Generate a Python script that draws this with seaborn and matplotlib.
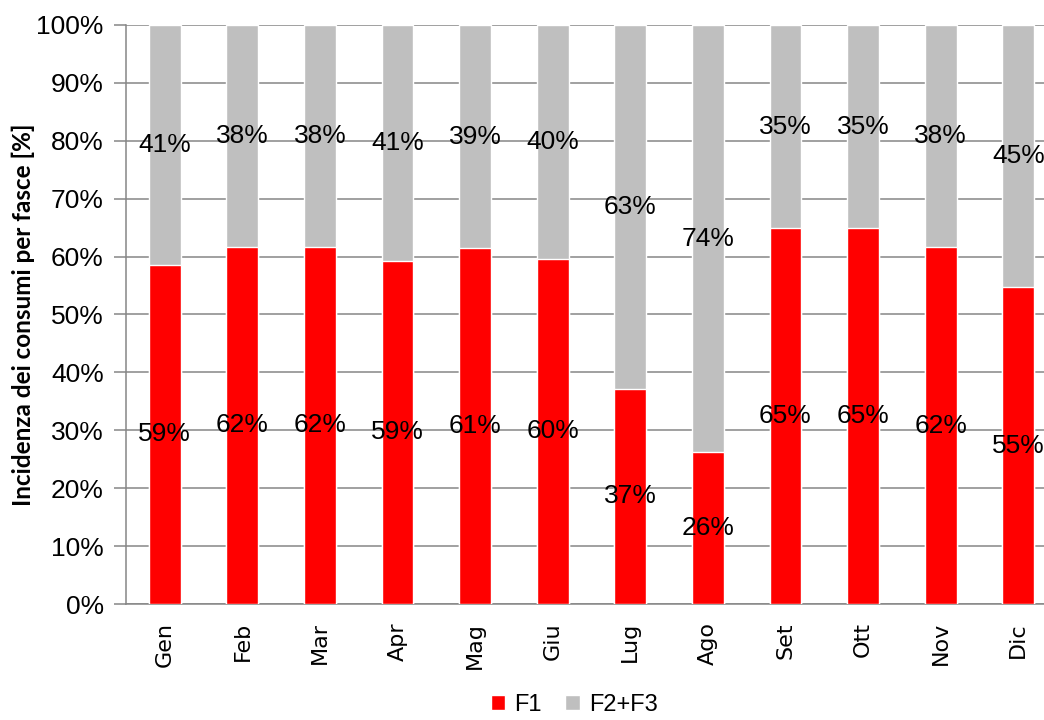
import numpy as np
import pandas as pd
import matplotlib
matplotlib.use("Agg")
import matplotlib.pyplot as plt
import seaborn as sns
from matplotlib.patches import Patch

# monthly split of consumption: F1 vs F2+F3 (percent)
months = ["Gen", "Feb", "Mar", "Apr", "Mag", "Giu", "Lug", "Ago", "Set", "Ott", "Nov", "Dic"]
f1 = [58.6, 61.7, 61.7, 59.3, 61.4, 59.6, 37.2, 26.2, 64.9, 64.9, 61.6, 54.7]
f23 = [41.4, 38.3, 38.3, 40.7, 38.6, 40.4, 62.8, 73.8, 35.1, 35.1, 38.4, 45.3]

red = "#FF0000"
grey = "#BFBFBF"
axis_grey = "#868686"

df = pd.DataFrame({"Mese": months, "F1": f1, "F23": f23})
df["Totale"] = df["F1"] + df["F23"]  # stacked top

sns.set_style("white")
plt.rcParams["font.family"] = ["Liberation Sans", "DejaVu Sans"]
plt.rcParams["text.color"] = "black"
plt.rcParams["xtick.labelcolor"] = "black"
plt.rcParams["ytick.labelcolor"] = "black"
plt.rcParams["axes.labelcolor"] = "black"

fig = plt.figure(figsize=(10.44, 7.2), dpi=100)
# plot area runs past the right edge like in the original export
ax = fig.add_axes([0.1207, 0.1611, 0.8918, 0.8042])

# stacking trick: draw the full bar in grey, then the F1 part in red over it
sns.barplot(data=df, x="Mese", y="Totale", color=grey, width=0.41, saturation=1, ax=ax, zorder=3)
sns.barplot(data=df, x="Mese", y="F1", color=red, width=0.41, saturation=1, ax=ax, zorder=3)

# data labels centred in each segment
for i in range(len(months)):
    ax.text(i, df["F1"][i] / 2, f"{df['F1'][i]:.0f}%", ha="center", va="center",
            fontsize=19, zorder=5)
    ax.text(i, df["F1"][i] + df["F23"][i] / 2, f"{df['F23'][i]:.0f}%", ha="center",
            va="center", fontsize=19, zorder=5)

ax.set_xlim(-0.5, 11.5)
ax.set_ylim(0, 100)
ax.set_yticks(np.arange(0, 101, 10))
ax.set_yticklabels([f"{v}%" for v in range(0, 101, 10)], fontsize=19)
ax.yaxis.grid(True, color=axis_grey, linewidth=1.1, zorder=0)
ax.set_axisbelow(True)

# category separators as minor ticks on the x axis
ax.set_xticks(np.arange(-0.5, 12, 1), minor=True)
ax.tick_params(axis="x", which="minor", length=10, width=1.1, color=axis_grey, direction="out")
ax.tick_params(axis="x", which="major", length=0, pad=13)
ax.tick_params(axis="y", length=9, width=1.1, color=axis_grey, direction="out", pad=7, left=True)
ax.set_xticklabels(months, rotation=90, fontsize=16, family="DejaVu Sans")

for s in ["top", "right"]:
    ax.spines[s].set_visible(False)
for s in ["left", "bottom"]:
    ax.spines[s].set_color(axis_grey)
    ax.spines[s].set_linewidth(1.1)

ax.set_xlabel("")
ax.set_ylabel("Incidenza dei consumi per fasce [%]", fontsize=17.5, fontweight="bold",
              family="Lato", labelpad=1)

handles = [Patch(facecolor=red, label="F1"), Patch(facecolor=grey, label="F2+F3")]
fig.legend(handles=handles, loc="center", bbox_to_anchor=(0.55, 0.021), ncol=2,
           frameon=False, fontsize=17, handlelength=0.6, handleheight=0.6,
           handletextpad=0.4, columnspacing=1.0, borderaxespad=0, borderpad=0.1)

fig.savefig("out.png", dpi=100)
